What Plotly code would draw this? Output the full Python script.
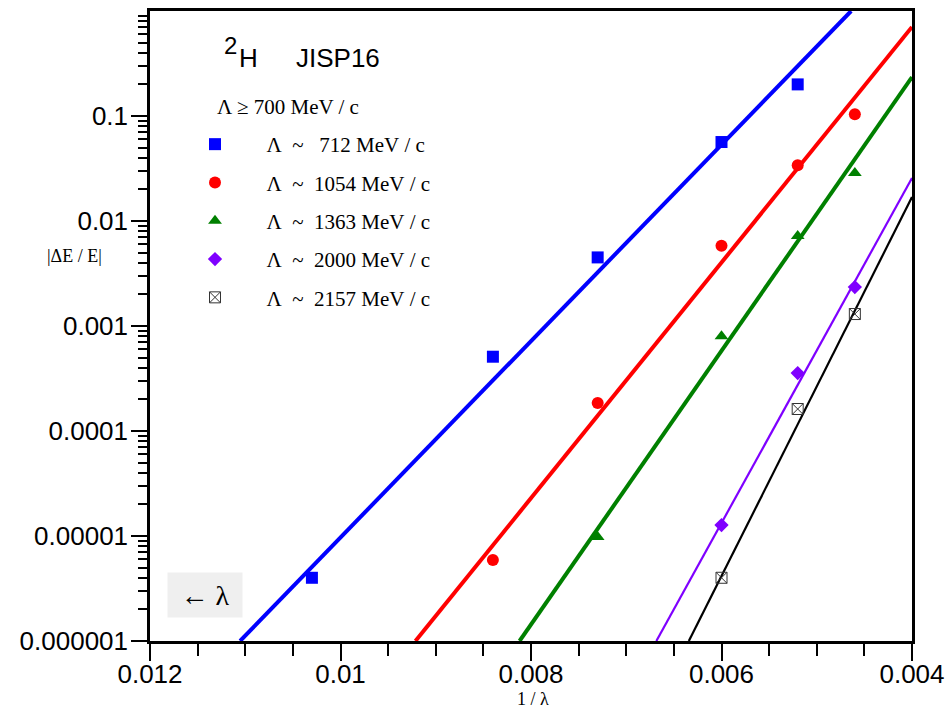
import plotly.graph_objects as go

# ---------------- data ----------------
labels = ["Λ  ~   712 MeV / c", "Λ  ~  1054 MeV / c", "Λ  ~  1363 MeV / c",
          "Λ  ~  2000 MeV / c", "Λ  ~  2157 MeV / c"]

x_blue = [0.0103, 0.0084, 0.0073, 0.0060, 0.0052]
y_blue = [4.0e-6, 5.1e-4, 4.5e-3, 0.0565, 0.20]

x_red = [0.0084, 0.0073, 0.0060, 0.0052, 0.0046]
y_red = [5.9e-6, 1.85e-4, 5.8e-3, 0.034, 0.104]

x_green = [0.0073, 0.0060, 0.0052, 0.0046]
y_green = [9.8e-6, 8.0e-4, 7.2e-3, 0.0286]

x_purple = [0.0060, 0.0052, 0.0046]
y_purple = [1.27e-5, 3.56e-4, 2.35e-3]

x_black = [0.0060, 0.0052, 0.0046]
y_black = [4.0e-6, 1.62e-4, 1.3e-3]

# fitted lines (end points)
fit_blue_x = [0.011054, 0.004639]
fit_blue_y = [1e-6, 1.0]
fit_red_x = [0.009213, 0.004]
fit_red_y = [1e-6, 0.705]
fit_green_x = [0.00812, 0.004]
fit_green_y = [1e-6, 0.235]
fit_purple_x = [0.006684, 0.004]
fit_purple_y = [1e-6, 0.0257]
fit_black_x = [0.006343, 0.004]
fit_black_y = [1e-6, 0.01694]

x_ticks = [0.012, 0.010, 0.008, 0.006, 0.004]
x_ticktext = ["0.012", "0.01", "0.008", "0.006", "0.004"]
y_ticks = [1e-6, 1e-5, 1e-4, 1e-3, 1e-2, 1e-1]
y_ticktext = ["0.000001", "0.00001", "0.0001", "0.001", "0.01", "0.1"]

# ---------------- layout helpers ----------------
PL, PR, PT, PB = 150, 912, 11, 641
W, H = PR - PL, PB - PT


def px(x):
    return (x - PL) / W


def py(y):
    return 1 - (y - PT) / H


SERIF = "Liberation Serif, Times New Roman, serif"
SANS = "Liberation Sans, Arial, Helvetica, sans-serif"

colors = ["#0000ff", "#ff0000", "#008000", "#7f00ff", "#000000"]
symbols = ["square", "circle", "triangle-up", "diamond", "square-x-open"]
sizes = [12, 12, 12, 11, 11]
lw = [4, 4, 4, 2.2, 2.2]

xs = [x_blue, x_red, x_green, x_purple, x_black]
ys = [y_blue, y_red, y_green, y_purple, y_black]
fxs = [fit_blue_x, fit_red_x, fit_green_x, fit_purple_x, fit_black_x]
fys = [fit_blue_y, fit_red_y, fit_green_y, fit_purple_y, fit_black_y]

fig = go.Figure()
for i in range(5):
    fig.add_trace(go.Scatter(x=fxs[i], y=fys[i], mode="lines",
                             line=dict(color=colors[i], width=lw[i]),
                             showlegend=False, hoverinfo="skip"))
for i in range(5):
    mk = dict(color=colors[i], symbol=symbols[i], size=sizes[i])
    if symbols[i].endswith("open"):
        mk = dict(color="#333333", symbol=symbols[i], size=sizes[i],
                  line=dict(width=1, color="#333333"))
    fig.add_trace(go.Scatter(x=xs[i], y=ys[i], mode="markers", marker=mk,
                             name="\u00a0" * 6 + labels[i].replace(" ", "\u00a0"),
                             legendgroup="g%d" % i, cliponaxis=False))

minor_y = [m * 10 ** e for e in range(-6, 0) for m in range(2, 10)]

fig.update_layout(
    width=948, height=711,
    margin=dict(l=PL, r=948 - PR, t=PT, b=711 - PB, autoexpand=False),
    paper_bgcolor="white", plot_bgcolor="white",
    font=dict(family=SANS, color="black"),
    xaxis=dict(range=[0.012, 0.004], tickvals=x_ticks, ticktext=x_ticktext,
               automargin=False,
               showgrid=False, zeroline=False, showline=True, linecolor="black",
               linewidth=2.5, mirror=True, ticks="outside", ticklen=17,
               tickwidth=2, tickcolor="black", ticklabelstandoff=-9,
               tickfont=dict(family=SANS, size=26),
               minor=dict(ticks="outside", ticklen=12, tickwidth=2,
                          tickcolor="black", dtick=0.0005, showgrid=False)),
    yaxis=dict(type="log", range=[-6, 0], tickvals=y_ticks, ticktext=y_ticktext,
               automargin=False,
               showgrid=False, zeroline=False, showline=True, linecolor="black",
               linewidth=2.5, mirror=True, ticks="outside", ticklen=16,
               tickwidth=2, tickcolor="black", ticklabelstandoff=-2,
               tickfont=dict(family=SANS, size=26),
               minor=dict(ticks="outside", ticklen=9, tickwidth=1.5,
                          tickcolor="black", tickvals=minor_y, showgrid=False)),
    legend=dict(x=px(195), y=py(124), xanchor="left", yanchor="top",
                bgcolor="rgba(0,0,0,0)", font=dict(family=SERIF, size=21),
                tracegroupgap=8, itemsizing="trace"),
    showlegend=True,
)

ann = [
    dict(text="2", x=px(222), y=py(45), xanchor="left", yanchor="middle",
         font=dict(family=SANS, size=24)),
    dict(text="H", x=px(237), y=py(58), xanchor="left", yanchor="middle",
         font=dict(family=SANS, size=26)),
    dict(text="JISP16", x=px(294), y=py(58), xanchor="left", yanchor="middle",
         font=dict(family=SANS, size=26)),
    dict(text="Λ ≥ 700 MeV / c", x=px(215), y=py(107), xanchor="left",
         yanchor="middle", font=dict(family=SERIF, size=21)),
    dict(text="|ΔE / E|", x=px(45), y=py(256), xanchor="left", yanchor="middle",
         font=dict(family=SERIF, size=18)),
    dict(text="1 / λ", x=px(533), y=py(699), xanchor="center", yanchor="middle",
         font=dict(family=SERIF, size=18)),
    dict(text="← λ", x=px(205), y=py(595), xanchor="center", yanchor="middle",
         font=dict(family=SERIF, size=28), bgcolor="#efefef",
         width=70, height=40, borderpad=2),
]
for a in ann:
    a.update(xref="paper", yref="paper", showarrow=False)
fig.update_layout(annotations=ann)

fig.write_html("out.html")
